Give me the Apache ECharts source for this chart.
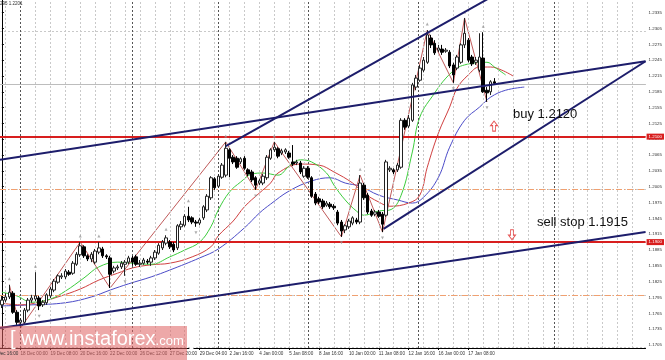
<!DOCTYPE html>
<html><head><meta charset="utf-8">
<script src="https://cdn.jsdelivr.net/npm/echarts@6/dist/echarts.min.js"></script>
<style>html,body{margin:0;padding:0;background:#fff}#c{width:665px;height:360px}</style>
</head><body><div id="c"></div>
<script>
// ---- price axis tick labels ----
const yTicks = [1.1705,1.1735,1.1765,1.1795,1.1825,1.1855,1.1885,1.1915,1.1945,1.1975,1.2005,
  1.2035,1.2065,1.2095,1.2125,1.2155,1.2185,1.2215,1.2245,1.2275,1.2305,1.2335];
// ---- time axis tick labels (bar index -> label) ----
const xTickBars = [5,13,21,29,37,45,53,61,69,77,85,93,101,109,117,125];
const xTickLabels = ['18 Dec 00:00','19 Dec 08:00','20 Dec 16:00','22 Dec 00:00','26 Dec 12:00','27 Dec 20:00',
  '29 Dec 04:00','2 Jan 16:00','4 Jan 00:00','5 Jan 08:00','8 Jan 16:00','10 Jan 00:00','11 Jan 08:00',
  '12 Jan 16:00','16 Jan 00:00','17 Jan 08:00'];
const firstLabel = '15 Dec 16:00';
const totalSlots = 173;  // bars + chart shift space
// ---- H4 candles ----
const opens = [1.1781,1.1790,1.1796,1.1803,1.1767,1.1748,1.1748,1.1771,1.1790,1.1792,
1.1794,1.1781,1.1785,1.1798,1.1809,1.1824,1.1834,1.1834,1.1843,1.1841,
1.1858,1.1876,1.1891,1.1874,1.1868,1.1862,1.1881,1.1887,1.1874,1.1870,
1.1845,1.1851,1.1853,1.1858,1.1862,1.1870,1.1872,1.1858,1.1860,1.1864,
1.1862,1.1870,1.1879,1.1889,1.1898,1.1900,1.1896,1.1889,1.1929,1.1932,
1.1949,1.1946,1.1938,1.1936,1.1946,1.1961,1.1984,1.2020,1.2006,1.2023,
1.2027,1.2075,1.2061,1.2059,1.2052,1.2059,1.2037,1.2033,1.2022,1.2012,
1.2012,1.2022,1.2059,1.2075,1.2077,1.2069,1.2071,1.2069,1.2052,1.2050,
1.2050,1.2025,1.2040,1.2022,1.1991,1.1982,1.1978,1.1970,1.1972,1.1968,
1.1957,1.1938,1.1923,1.1929,1.1936,1.1942,1.1938,1.2008,1.1989,1.1959,
1.1953,1.1957,1.1953,1.1951,1.2037,1.2037,1.2037,1.2042,1.2131,1.2120,
1.2131,1.2194,1.2207,1.2226,1.2241,1.2287,1.2277,1.2264,1.2266,1.2262,
1.2260,1.2236,1.2230,1.2241,1.2274,1.2283,1.2251,1.2241,1.2226,1.2249,
1.2188,1.2185,1.2204];
const closes = [1.1790,1.1796,1.1805,1.1767,1.1748,1.1752,1.1771,1.1790,1.1794,1.1798,
1.1779,1.1786,1.1800,1.1811,1.1826,1.1836,1.1836,1.1845,1.1839,1.1860,
1.1877,1.1893,1.1874,1.1868,1.1877,1.1883,1.1889,1.1874,1.1872,1.1839,
1.1851,1.1853,1.1860,1.1862,1.1870,1.1862,1.1858,1.1860,1.1866,1.1862,
1.1870,1.1881,1.1894,1.1900,1.1908,1.1891,1.1885,1.1931,1.1934,1.1949,
1.1942,1.1938,1.1936,1.1942,1.1967,1.1987,1.2022,1.2003,1.2025,1.2046,
1.2078,1.2059,1.2052,1.2042,1.2058,1.2040,1.2029,1.2018,1.2008,1.2016,
1.2025,1.2061,1.2075,1.2080,1.2063,1.2073,1.2075,1.2061,1.2048,1.2052,
1.2033,1.2040,1.2023,1.1987,1.1974,1.1976,1.1967,1.1974,1.1967,1.1965,
1.1936,1.1921,1.1931,1.1940,1.1946,1.1938,1.2012,1.1984,1.1957,1.1951,
1.1957,1.1949,1.1934,1.2052,1.2040,1.2033,1.2046,1.2131,1.2118,1.2135,
1.2198,1.2211,1.2230,1.2245,1.2293,1.2274,1.2259,1.2268,1.2260,1.2264,
1.2234,1.2217,1.2251,1.2274,1.2296,1.2245,1.2238,1.2245,1.2251,1.2185,
1.2183,1.2204,1.2201];
const lows = [1.1775,1.1786,1.1792,1.1764,1.1743,1.1737,1.1745,1.1767,1.1785,1.1788,
1.1771,1.1777,1.1781,1.1794,1.1805,1.1821,1.1830,1.1830,1.1836,1.1838,
1.1855,1.1872,1.1870,1.1864,1.1862,1.1858,1.1877,1.1870,1.1868,1.1813,
1.1841,1.1847,1.1849,1.1836,1.1858,1.1855,1.1855,1.1853,1.1857,1.1858,
1.1855,1.1866,1.1876,1.1885,1.1894,1.1887,1.1881,1.1885,1.1923,1.1929,
1.1938,1.1934,1.1929,1.1932,1.1942,1.1957,1.1980,1.1999,1.2003,1.2020,
1.2023,1.2023,1.2048,1.2039,1.2048,1.2037,1.2025,1.2014,1.1999,1.2008,
1.2008,1.2018,1.2056,1.2071,1.2059,1.2065,1.2067,1.2058,1.2044,1.2046,
1.2029,1.2022,1.2020,1.1984,1.1970,1.1972,1.1963,1.1967,1.1963,1.1961,
1.1932,1.1910,1.1917,1.1925,1.1932,1.1934,1.1934,1.1980,1.1953,1.1948,
1.1949,1.1946,1.1919,1.1948,1.2033,1.2029,1.2033,1.2039,1.2113,1.2116,
1.2128,1.2188,1.2204,1.2222,1.2238,1.2268,1.2255,1.2260,1.2255,1.2259,
1.2230,1.2202,1.2226,1.2238,1.2268,1.2241,1.2234,1.2236,1.2222,1.2183,
1.2166,1.2179,1.2198];
const highs = [1.1798,1.1803,1.1819,1.1807,1.1771,1.1756,1.1775,1.1794,1.1800,1.1843,
1.1798,1.1790,1.1803,1.1815,1.1830,1.1839,1.1841,1.1849,1.1847,1.1864,
1.1881,1.1900,1.1894,1.1877,1.1881,1.1887,1.1900,1.1891,1.1877,1.1874,
1.1855,1.1857,1.1864,1.1866,1.1874,1.1874,1.1876,1.1866,1.1870,1.1868,
1.1874,1.1885,1.1898,1.1904,1.1913,1.1904,1.1900,1.1934,1.1940,1.1953,
1.1967,1.1949,1.1942,1.1946,1.1970,1.1991,1.2025,1.2023,1.2029,1.2050,
1.2090,1.2078,1.2065,1.2063,1.2061,1.2063,1.2040,1.2037,1.2025,1.2020,
1.2029,1.2065,1.2078,1.2090,1.2080,1.2077,1.2078,1.2073,1.2084,1.2056,
1.2054,1.2044,1.2044,1.2025,1.1995,1.1986,1.1982,1.1978,1.1976,1.1972,
1.1961,1.1942,1.1934,1.1944,1.1949,1.1946,1.2027,1.2012,1.1993,1.1963,
1.1961,1.1961,1.1957,1.2056,1.2044,1.2040,1.2050,1.2135,1.2135,1.2141,
1.2202,1.2217,1.2236,1.2251,1.2302,1.2293,1.2283,1.2274,1.2274,1.2268,
1.2264,1.2240,1.2255,1.2277,1.2325,1.2287,1.2255,1.2251,1.2296,1.2298,
1.2194,1.2207,1.2211];
// ---- Alligator lines, read at sampled bars [bar, price] ----
const lipsGreen = [[0,1.1805],[4,1.1798],[8,1.1786],[13,1.1792],[17,1.1807],[22,1.1832],[26,1.1853],[31,1.1862],
 [35,1.1860],[40,1.1858],[45,1.1872],[49,1.1885],[53,1.1900],[56,1.1929],[58,1.1961],[61,1.1995],[64,1.2014],
 [67,1.2029],[70,1.2031],[74,1.2027],[77,1.2044],[80,1.2056],[83,1.2052],[87,1.2031],[89,1.2008],[92,1.1980],
 [95,1.1959],[97,1.1951],[101,1.1959],[104,1.1961],[107,1.1989],[110,1.2071],[112,1.2137],[116,1.2183],
 [119,1.2211],[122,1.2230],[124,1.2236],[127,1.2240],[130,1.2241],[132,1.2232],[135,1.2217]];
const teethRed = [[0,1.1784],[5,1.1781],[10,1.1786],[15,1.1796],[21,1.1811],[26,1.1828],[31,1.1841],[35,1.1851],
 [40,1.1857],[45,1.1860],[51,1.1872],[56,1.1891],[58,1.1912],[62,1.1940],[65,1.1967],[69,1.1993],[72,1.2012],
 [74,1.2031],[80,1.2048],[85,1.2046],[89,1.2033],[94,1.2012],[97,1.1993],[101,1.1976],[104,1.1968],[109,1.1974],
 [112,1.1989],[114,1.2042],[117,1.2107],[120,1.2156],[122,1.2192],[125,1.2217],[128,1.2232],[131,1.2232],
 [134,1.2226],[137,1.2215]];
const jawBlue = [[0,1.1779],[8,1.1781],[17,1.1785],[24,1.1796],[29,1.1809],[34,1.1821],[40,1.1834],[45,1.1847],
 [53,1.1870],[58,1.1887],[65,1.1927],[69,1.1955],[72,1.1972],[77,1.1997],[83,1.2016],[88,1.2022],[92,1.2012],
 [96,1.2006],[101,1.1989],[106,1.1980],[110,1.1974],[113,1.1985],[117,1.2023],[120,1.2080],[124,1.2131],
 [128,1.2156],[131,1.2175],[135,1.2188],[140,1.2194]];
// ---- ZigZag pivots [bar, price] ----
const zigzag = [[2,1.1819],[5,1.1737],[21,1.1900],[29,1.1813],[60,1.2090],[68,1.1999],[73,1.2090],[91,1.1910],
 [96,1.2027],[102,1.1919],[114,1.2302],[121,1.2202],[124,1.2325],[130,1.2166]];
// ---- fractal marks ----
const fractalUp = [[2,1.1819],[9,1.1843],[21,1.1900],[26,1.1900],[44,1.1913],[50,1.1967],[60,1.2090],[73,1.2090],[96,1.2027],[114,1.2302],[124,1.2325],[129,1.2298]];
const fractalDown = [[5,1.1737],[10,1.1771],[29,1.1813],[33,1.1836],[52,1.1929],[68,1.1999],[91,1.1910],[102,1.1919],[121,1.2202],[130,1.2166]];
// ---- drawn trend lines [bar, price] ----
const lowerChannel = [[-0.5,1.1737],[172.5,1.1919]];
const upperChannel = [[-0.5,1.2056],[172.5,1.2243]];
const steepUpper = [[60,1.2082],[136,1.2384]];
const steepLower = [[102.3,1.1925],[172.5,1.2243]];
// ---- horizontal levels ----
const buyLevel = 1.2120, sellLevel = 1.1914, lastPrice = 1.2201;
const dashDotLevels = [1.1961, 1.1815];
const separatorBars = [5, 35, 58, 82, 111.5, 148];
const buyArrow = [[131.9, 1.2120]], sellArrow = [[136.7, 1.1914]];

const categories = Array.from({length: totalSlots}, (_, i) => String(i));
const candles = opens.map((o, i) => [o, closes[i], lows[i], highs[i]]);
const labelMap = {}; xTickBars.forEach((b, k) => labelMap[b] = xTickLabels[k]);
const vGrid = []; for (let b = 1; b < totalSlots; b += 4) vGrid.push(b);

const chart = echarts.init(document.getElementById('c'), null, {renderer: 'canvas'});
const FONT = 'Liberation Sans';
const gridLine = {color: '#c9c9c9', type: [2, 2], width: 1};
chart.setOption({
  animation: false,
  backgroundColor: '#fff',
  grid: {left: 0, right: 17, top: 0, bottom: 12, containLabel: false},
  xAxis: [
    {type: 'category', data: categories, boundaryGap: true, show: false},
    {type: 'value', min: -0.5, max: totalSlots - 0.5, position: 'bottom',
     axisLine: {show: true, lineStyle: {color: '#000', width: 1}},
     axisTick: {show: true, customValues: xTickBars, length: 2, lineStyle: {color: '#000'}},
     axisLabel: {show: true, customValues: xTickBars, formatter: v => labelMap[Math.round(v)] || '',
       fontSize: 4.6, fontFamily: FONT, color: '#333', align: 'left', margin: 3},
     splitLine: {show: false}}
  ],
  yAxis: {type: 'value', position: 'right', min: 1.16992, max: 1.23591,
    axisLine: {show: true, lineStyle: {color: '#000', width: 1}},
    axisTick: {show: true, customValues: yTicks, length: 2, lineStyle: {color: '#000'}},
    axisLabel: {customValues: yTicks, formatter: v => v.toFixed(4), fontSize: 4.4, fontFamily: FONT, color: '#333', margin: 3},
    splitLine: {show: false}},
  series: [
    {type: 'line', xAxisIndex: 1, data: [], z: 0, silent: true,
     markLine: {symbol: 'none', silent: true, label: {show: false},
       data: [
         ...yTicks.map(v => ({yAxis: v, lineStyle: gridLine})),
         ...vGrid.map(v => ({xAxis: v, lineStyle: gridLine})),
         ...separatorBars.map(v => ({xAxis: v, lineStyle: {color: '#555', type: [2, 2], width: 1}})),
         ...dashDotLevels.map(v => ({yAxis: v, lineStyle: {color: '#f0a070', type: [6, 2, 1, 2], width: 1}})),
         {yAxis: lastPrice, lineStyle: {color: '#bdbdbd', type: 'solid', width: 1}}
       ]}},
    {type: 'line', xAxisIndex: 1, data: jawBlue, smooth: 0.4, showSymbol: false, lineStyle: {color: '#4b4bc8', width: 1}, z: 3},
    {type: 'line', xAxisIndex: 1, data: teethRed, smooth: 0.4, showSymbol: false, lineStyle: {color: '#d04040', width: 1}, z: 3},
    {type: 'line', xAxisIndex: 1, data: lipsGreen, smooth: 0.4, showSymbol: false, lineStyle: {color: '#3ccc3c', width: 1}, z: 3},
    {type: 'line', xAxisIndex: 1, data: zigzag, showSymbol: false, lineStyle: {color: '#c05a5a', width: 1}, z: 4},
    {type: 'candlestick', xAxisIndex: 0, data: candles, barWidth: 3, z: 5,
     itemStyle: {color: '#ffffff', color0: '#000000', borderColor: '#222', borderColor0: '#000', borderWidth: 1}},
    {type: 'scatter', xAxisIndex: 1, data: fractalUp, symbol: 'triangle', symbolSize: [3, 3], symbolOffset: [0, -6],
     itemStyle: {color: '#999'}, z: 5},
    {type: 'scatter', xAxisIndex: 1, data: fractalDown, symbol: 'triangle', symbolRotate: 180, symbolSize: [3, 3], symbolOffset: [0, 6],
     itemStyle: {color: '#999'}, z: 5},
    {type: 'line', xAxisIndex: 1, data: lowerChannel, showSymbol: false, lineStyle: {color: '#1d1d6b', width: 2}, z: 6},
    {type: 'line', xAxisIndex: 1, data: upperChannel, showSymbol: false, lineStyle: {color: '#1d1d6b', width: 2}, z: 6},
    {type: 'line', xAxisIndex: 1, data: steepUpper, showSymbol: false, lineStyle: {color: '#1d1d6b', width: 2}, z: 6},
    {type: 'line', xAxisIndex: 1, data: steepLower, showSymbol: false, lineStyle: {color: '#1d1d6b', width: 2}, z: 6},
    {type: 'line', xAxisIndex: 1, data: [], z: 7, silent: true,
     markLine: {symbol: 'none', silent: true,
       label: {show: true, position: 'end', distance: 1, formatter: p => p.value.toFixed(4),
         fontSize: 4.4, fontFamily: FONT, color: '#fff', backgroundColor: '#d81e1e', padding: [1, 2]},
       data: [
         {yAxis: buyLevel, lineStyle: {color: '#d81e1e', type: 'solid', width: 2}},
         {yAxis: sellLevel, lineStyle: {color: '#d81e1e', type: 'solid', width: 2}},
         {yAxis: lastPrice, lineStyle: {opacity: 0},
          label: {backgroundColor: '#000', color: '#fff'}}
       ]}},
    {type: 'scatter', xAxisIndex: 1, data: buyArrow, z: 8,
     symbol: 'path://M5,0 L10,5 L7,5 L7,11 L3,11 L3,5 L0,5 Z', symbolSize: [7, 10],
     itemStyle: {color: '#fff', borderColor: '#e02a2a', borderWidth: 1}},
    {type: 'scatter', xAxisIndex: 1, data: sellArrow, z: 8,
     symbol: 'path://M5,11 L10,6 L7,6 L7,0 L3,0 L3,6 L0,6 Z', symbolSize: [7, 10],
     itemStyle: {color: '#fff', borderColor: '#e02a2a', borderWidth: 1}}
  ],
  graphic: [
    {type: 'text', left: 0, top: 1, z: 10, style: {text: '295 1.2201', fontSize: 4.5, fontFamily: FONT, fill: '#333'}},
    {type: 'text', left: -9, top: 351, z: 10, style: {text: firstLabel, fontSize: 4.6, fontFamily: FONT, fill: '#333'}},
    {type: 'text', left: 513, top: 108, z: 10, style: {text: 'buy 1.2120', fontSize: 13, fontFamily: FONT, fill: '#111'}},
    {type: 'text', left: 537, top: 216, z: 10, style: {text: 'sell stop 1.1915', fontSize: 13, fontFamily: FONT, fill: '#111'}},
    {type: 'rect', left: 0, top: 326, z: 9, shape: {width: 187, height: 34}, style: {fill: 'rgba(222,96,96,0.55)'}},
    {type: 'text', left: 10, top: 329, z: 9,
     style: {text: '{a|[ www.instaforex}{b|.com}{a| ]}', fill: '#fff',
       rich: {a: {fontSize: 20, fontFamily: FONT, fill: '#fff'}, b: {fontSize: 13, fontFamily: FONT, fill: '#fff', padding: [5, 0, 0, 0]}}}}
  ]
});
</script></body></html>
